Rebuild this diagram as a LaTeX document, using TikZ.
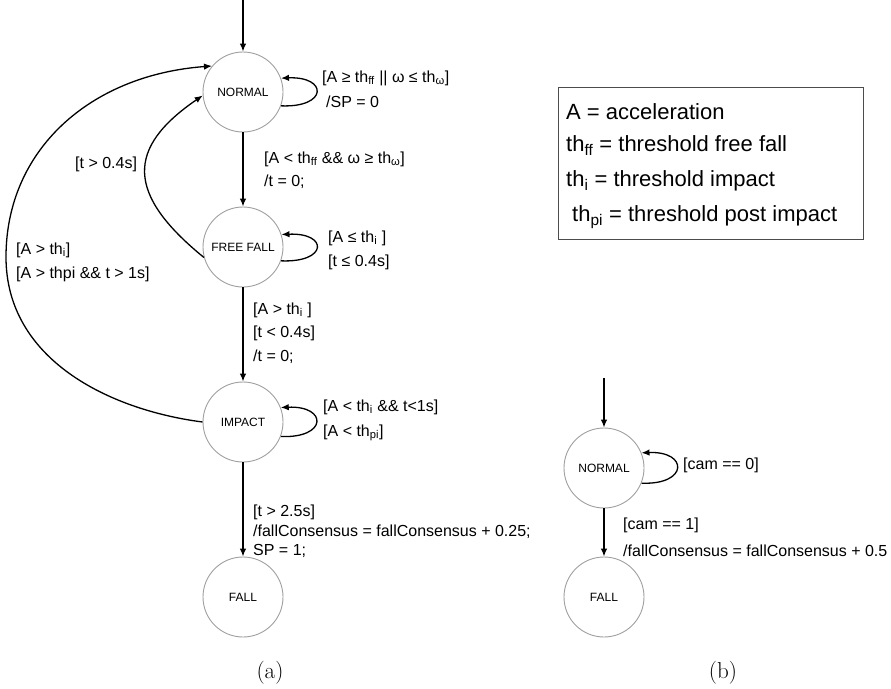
\documentclass[tikz,border=0pt]{standalone}
\usepackage{fontspec}
\newfontfamily\arial{Liberation Sans}
\usetikzlibrary{arrows.meta}
\newcommand\lowsub[1]{\textsubscript{#1}}

\begin{document}
\begin{tikzpicture}[x=1pt,y=-1pt,
  state/.style={circle, draw=gray!75, line width=0.9pt, minimum size=80pt,
    inner sep=0pt, font=\arial\fontsize{12}{14}\selectfont},
  trans/.style={line width=1.3pt, -{Latex[length=8pt,width=6.5pt]}},
  lbl/.style={anchor=base west, inner sep=0pt, font=\arial\fontsize{16}{19}\selectfont},
  key/.style={anchor=base west, inner sep=0pt, font=\arial\fontsize{22}{26}\selectfont},
  captiontext/.style={inner sep=0pt, font=\fontsize{23}{27}\selectfont}]
\useasboundingbox (0,0) rectangle (891,688);

% ---------- (a) fall detection automaton ----------
\node[state] (n)  at (243,92)  {NORMAL};
\node[state] (ff) at (243,247) {FREE FALL};
\node[state] (im) at (243,422) {IMPACT};
\node[state] (fa) at (243,597) {FALL};
\coordinate (entryA) at (243,0);
\coordinate (bendL) at (6,257);

\draw[trans] (entryA) -- (n);
\draw[trans] (n) -- (ff);
\draw[trans] (ff) -- (im);
\draw[trans] (im) -- (fa);

% self loops
\draw[trans] (n.-20) .. controls +(47,2) and +(47,-2) .. (n.20);
\draw[trans] (ff.-20) .. controls +(47,2) and +(47,-2) .. (ff.18);
\draw[trans] (im.-21) .. controls +(47,2) and +(47,-2) .. (im.21);

% return transitions
\draw[trans] (ff.195) .. controls (126,194) and (126,148) .. (n.185);
\draw[trans] (im.west) .. controls (110,410) and (6,360) .. (bendL)
  .. controls (6,150) and (90,75) .. (n.140);

% transition labels
\node[lbl] (la1) at (322,82)  {[A ≥ th\lowsub{ff} || ω ≤ th\lowsub{ω}]};
\node[lbl] (la2) at (326,107) {/SP = 0};
\node[lbl] (lb1) at (264,163) {[A < th\lowsub{ff} \&\& ω ≥ th\lowsub{ω}]};
\node[lbl] (lb2) at (264,186) {/t = 0;};
\node[lbl] (lc1) at (328,242) {[A ≤ th\lowsub{i} ]};
\node[lbl] (lc2) at (328,266) {[t ≤ 0.4s]};
\node[lbl] (ld1) at (253,314) {[A > th\lowsub{i} ]};
\node[lbl] (ld2) at (253,337) {[t < 0.4s]};
\node[lbl] (ld3) at (253,361) {/t = 0;};
\node[lbl] (le1) at (323,411) {[A < th\lowsub{i} \&\& t<1s]};
\node[lbl] (le2) at (323,436) {[A < th\lowsub{pi}]};
\node[lbl] (lf1) at (253,516) {[t > 2.5s]};
\node[lbl] (lf2) at (253,536) {/fallConsensus = fallConsensus + 0.25;};
\node[lbl] (lf3) at (253,555) {SP = 1;};
\node[lbl] (lg1) at (75,168)  {[t > 0.4s]};
\node[lbl] (lh1) at (16,254)  {[A > th\lowsub{i}]};
\node[lbl] (lh2) at (16,278)  {[A > thpi \&\& t > 1s]};

% ---------- legend ----------
\node[draw=black!70, line width=0.9pt, minimum width=305pt, minimum height=152pt,
  inner sep=0pt] (legend) at (710.5,163) {};
\node[key] (k1) at (566,119) {A = acceleration};
\node[key] (k2) at (566,151) {th\lowsub{ff} = threshold free fall};
\node[key] (k3) at (566,186) {th\lowsub{i} = threshold impact};
\node[key] (k4) at (572,221) {th\lowsub{pi} = threshold post impact};

% ---------- (b) camera automaton ----------
\node[state] (nb) at (604,468) {NORMAL};
\node[state] (fb) at (604,597) {FALL};
\coordinate (entryB) at (604,378);

\draw[trans] (entryB) -- (nb);
\draw[trans] (nb) -- (fb);
\draw[trans] (nb.-22) .. controls +(47,2) and +(47,-2) .. (nb.22);

\node[lbl] (lm1) at (683,469) {[cam == 0]};
\node[lbl] (lm2) at (623,529) {[cam == 1]};
\node[lbl] (lm3) at (623,556) {/fallConsensus = fallConsensus + 0.5};

% ---------- captions ----------
\node[captiontext] (capA) at (270,673) {(a)};
\node[captiontext] (capB) at (723,673) {(b)};
\end{tikzpicture}
\end{document}
